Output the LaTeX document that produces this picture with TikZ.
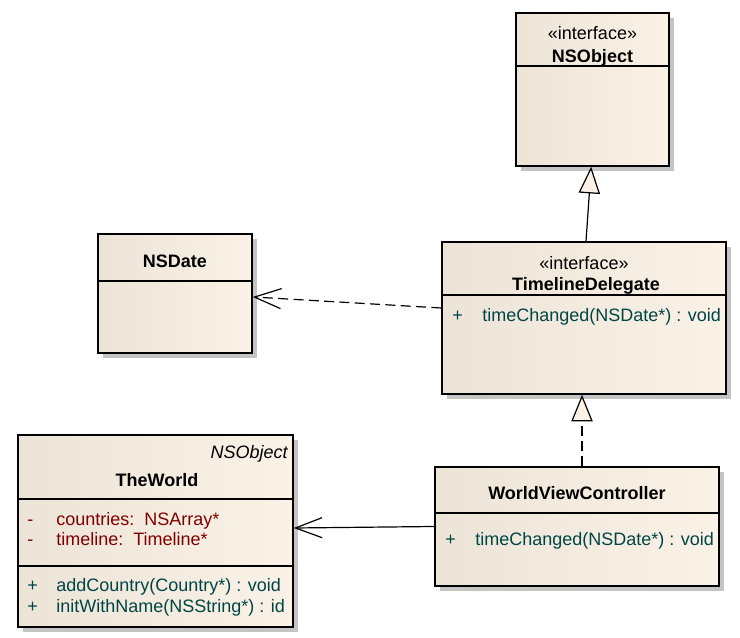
\documentclass[tikz,border=0pt]{standalone}
\usepackage{fontspec}
\setmainfont{Liberation Sans}
\usetikzlibrary{arrows.meta,shadows,fit}
\definecolor{boxL}{HTML}{EDE4D8}
\definecolor{boxR}{HTML}{FBF2E7}
\definecolor{shadegray}{HTML}{C4C4C4}
\definecolor{attrcol}{HTML}{800000}
\definecolor{methcol}{HTML}{004545}
\definecolor{tricol}{HTML}{FBF1E5}
\begin{document}
\begin{tikzpicture}[x=0.75pt,y=-0.75pt,
  umlbox/.style={draw=black, line width=1.1pt, inner sep=0pt,
    left color=boxL, right color=boxR,
    drop shadow={shadow xshift=3.5pt, shadow yshift=-3.5pt, fill=shadegray, opacity=1}},
  divl/.style={draw=black, line width=1pt},
  txt/.style={inner sep=0pt, text height=11pt, text depth=2pt, font=\fontsize{13.5}{16}\selectfont},
  ttl/.style={inner sep=0pt, text height=11pt, text depth=2pt, font=\fontsize{13.5}{16}\selectfont\bfseries},
  attr/.style={txt, text=attrcol, anchor=west},
  meth/.style={txt, text=methcol, anchor=west},
  conn/.style={draw=black, line width=0.9pt},
  dep/.style={conn, dash pattern=on 7.5pt off 4pt},
  barb/.style={-{Straight Barb[length=20pt,width=15pt]}},
  gen/.style={-{Triangle[length=20pt,width=16pt,fill=tricol]}}
]
\useasboundingbox[fill=white] (0,0) rectangle (740,638);

% NSObject interface
\node[umlbox, fit={(516,13)(669,166)}] (nsobj) {};
\draw[divl] (516,66) -- (669,66);
\node[txt] (nsobjst) at (592.5,34) {«interface»};
\node[ttl] (nsobjname) at (592.5,57) {NSObject};

% NSDate
\node[umlbox, fit={(98,234)(252,353)}] (nsdate) {};
\draw[divl] (98,281) -- (252,281);
\node[ttl] (nsdatename) at (175,262) {NSDate};

% TimelineDelegate
\node[umlbox, fit={(442,242)(726,394)}] (tld) {};
\draw[divl] (442,295) -- (726,295);
\node[txt] (tldst) at (584,264) {«interface»};
\node[ttl] (tldname) at (586,285) {TimelineDelegate};
\node[meth] (tldvis) at (452,316) {+};
\node[meth] (tldm) at (482,316) {timeChanged(NSDate*) : void};

% TheWorld
\node[umlbox, fit={(18,435)(293,627)}] (world) {};
\draw[divl] (18,499) -- (293,499);
\draw[divl] (18,566) -- (293,566);
\node[txt, anchor=east, font=\fontsize{13.5}{16}\selectfont\itshape] (worldpar) at (288,452) {NSObject};
\node[ttl] (worldname) at (157,480) {TheWorld};
\node[attr] (wa1v) at (27,519) {-};
\node[attr] (wa1) at (56,519) {countries:\ \ NSArray*};
\node[attr] (wa2v) at (27,539) {-};
\node[attr] (wa2) at (56,539) {timeline:\ \ Timeline*};
\node[meth] (wm1v) at (27,585) {+};
\node[meth] (wm1) at (56,585) {addCountry(Country*) : void};
\node[meth] (wm2v) at (27,606) {+};
\node[meth] (wm2) at (56,606) {initWithName(NSString*) : id};

% WorldViewController
\node[umlbox, fit={(435,467)(719,586)}] (wvc) {};
\draw[divl] (435,513) -- (719,513);
\node[ttl] (wvcname) at (577,493) {WorldViewController};
\node[meth] (wvcvis) at (445,539) {+};
\node[meth] (wvcm) at (475,539) {timeChanged(NSDate*) : void};

% connectors
\draw[dep, barb] ([yshift=7.5pt]tld.west) -- ([yshift=-2.6pt]nsdate.east);
\draw[conn, gen] ([xshift=1.5pt]tld.north) -- ([xshift=-1pt]nsobj.south);
\draw[dep, gen] ([xshift=3.75pt]wvc.north) -- ([xshift=-1.5pt]tld.south);
\draw[conn, barb] (wvc.west) -- ([yshift=2.25pt]world.east);
\end{tikzpicture}
\end{document}
